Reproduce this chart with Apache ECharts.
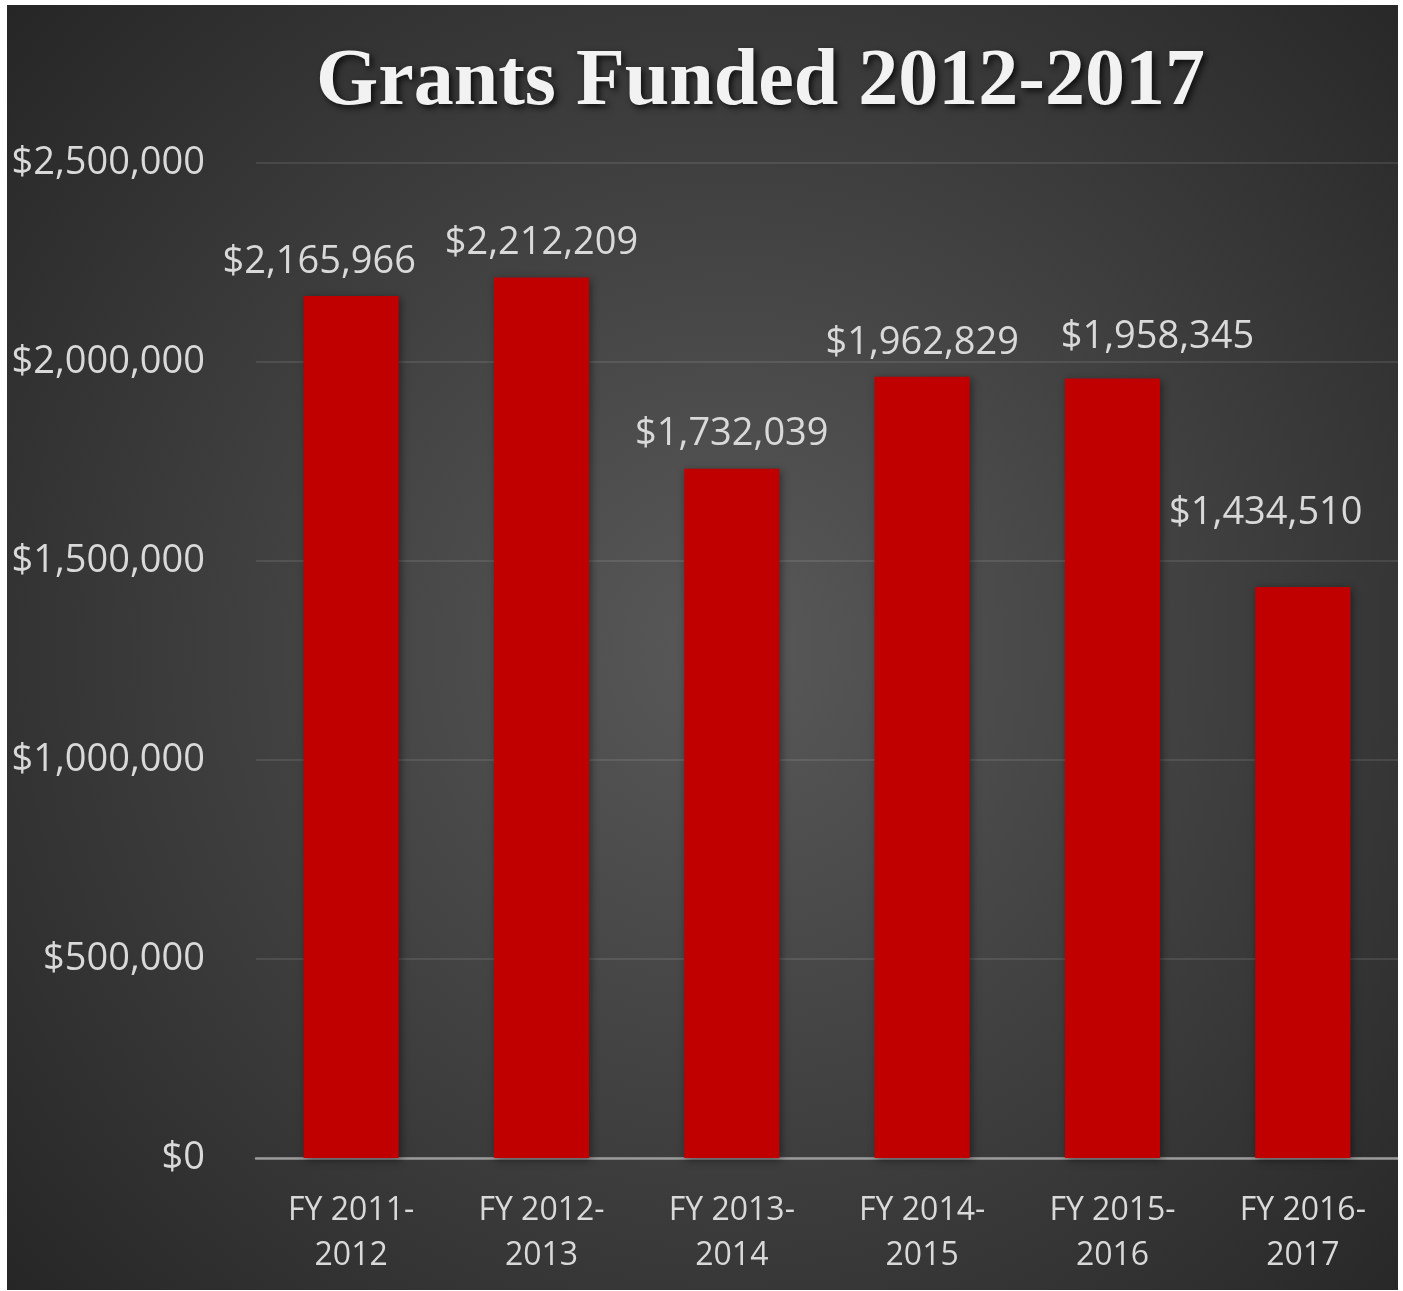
<!DOCTYPE html>
<html>
<head>
<meta charset="utf-8">
<script src="https://cdn.jsdelivr.net/npm/echarts@6/dist/echarts.min.js"></script>
<style>
  html, body { margin: 0; padding: 0; background: #ffffff; }
  #frame { position: absolute; left: 7px; top: 5px; width: 1391px; height: 1285px; }
</style>
</head>
<body>
<div id="frame"></div>
<script>
// ---- data ----
const titleText = 'Grants Funded 2012-2017';
const categories = ['FY 2011-\n2012', 'FY 2012-\n2013', 'FY 2013-\n2014', 'FY 2014-\n2015', 'FY 2015-\n2016', 'FY 2016-\n2017'];
const grantValues = [2165966, 2212209, 1732039, 1962829, 1958345, 1434510];
const yTicks = [0, 500000, 1000000, 1500000, 2000000, 2500000];

// ---- layout (manual label nudges seen in the reference) ----
const labelNudges = [[-32, 0], [0, 0], [0, 0], [0, 0], [45, -7], [-37, -40]];

const fmt = v => '$' + v.toLocaleString('en-US');

const chart = echarts.init(document.getElementById('frame'), null, { renderer: 'canvas' });

chart.setOption({
  backgroundColor: {
    type: 'radial', x: 0.52, y: 0.5, r: 0.75,
    colorStops: [
      { offset: 0, color: '#595959' },
      { offset: 1, color: '#262626' }
    ]
  },
  title: {
    text: titleText,
    left: 304,
    top: 33,
    textStyle: {
      fontFamily: '"Liberation Serif", "DejaVu Serif", serif',
      fontWeight: 'bold',
      fontSize: 80,
      color: '#f2f2f2',
      textShadowColor: 'rgba(0,0,0,0.75)',
      textShadowBlur: 6,
      textShadowOffsetX: 3,
      textShadowOffsetY: 3
    }
  },
  grid: { left: 249, right: 0, top: 158, bottom: 132, containLabel: false },
  xAxis: {
    type: 'category',
    data: categories,
    axisLine: { show: true, lineStyle: { color: '#9a9a9a', width: 2.5 } },
    axisTick: { show: false },
    axisLabel: {
      color: '#d9d9d9',
      fontFamily: '"Open Sans", sans-serif',
      fontSize: 32,
      lineHeight: 45,
      margin: 30
    }
  },
  yAxis: {
    type: 'value',
    min: 0,
    max: yTicks[yTicks.length - 1],
    interval: yTicks[1] - yTicks[0],
    axisLine: { show: false },
    axisTick: { show: false },
    splitLine: { lineStyle: { color: 'rgba(255,255,255,0.13)', width: 1.5 } },
    axisLabel: {
      color: '#d9d9d9',
      fontFamily: '"Open Sans", sans-serif',
      fontSize: 38,
      margin: 51,
      formatter: v => fmt(v)
    }
  },
  series: [{
    type: 'bar',
    barWidth: '50%',
    data: grantValues.map((v, i) => ({
      value: v,
      label: { offset: labelNudges[i] }
    })),
    itemStyle: {
      color: '#c00000',
      shadowColor: 'rgba(0,0,0,0.45)',
      shadowBlur: 8,
      shadowOffsetX: 2,
      shadowOffsetY: 2
    },
    label: {
      show: true,
      position: 'top',
      distance: 15,
      color: '#d9d9d9',
      fontFamily: '"Open Sans", sans-serif',
      fontSize: 38,
      formatter: p => fmt(p.value)
    }
  }]
});
</script>
</body>
</html>
